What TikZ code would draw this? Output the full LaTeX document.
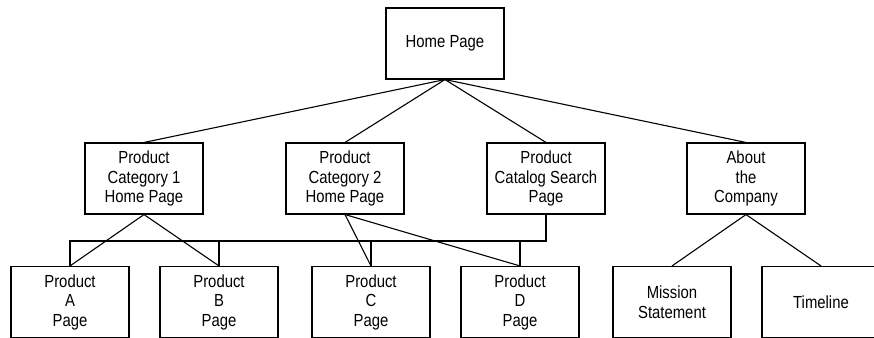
\documentclass[tikz,border=0pt]{standalone}
\usepackage{fontspec}
\setmainfont{Liberation Sans}[FakeStretch=0.85]
\usepackage{tikz}

\begin{document}
\begin{tikzpicture}[x=1pt, y=-1pt,
		page_style/.style={rectangle,draw=black,line width=1.1pt,minimum width=118pt,minimum height=71pt,inner sep=0pt,align=center,font=\fontsize{17.5}{19.5}\selectfont},
		edge_style/.style={draw=black,line width=1.1pt}]
		
		\useasboundingbox (0,0) rectangle (874,337);
		\clip (0,0) rectangle (874,337);
		
		\node[page_style] (home) at (445,43.5)  {Home Page};
		\node[page_style] (cat1) at (144,178.5)  {Product\\Category 1\\Home Page};
		\node[page_style] (cat2) at (345,178.5)  {Product\\Category 2\\Home Page};
		\node[page_style] (srch) at (546,178.5)  {Product\\Catalog Search\\Page};
		\node[page_style] (about) at (746,178.5)  {About\\the\\Company};
		\node[page_style] (pa) at (70,302)  {Product\\A\\Page};
		\node[page_style] (pb) at (219,302)  {Product\\B\\Page};
		\node[page_style] (pc) at (371,302)  {Product\\C\\Page};
		\node[page_style] (pd) at (520,302)  {Product\\D\\Page};
		\node[page_style] (miss) at (672,302)  {Mission\\Statement};
		\node[page_style] (time) at (821,302)  {Timeline};
		\coordinate (bus) at (70,241);
		
		\draw[edge_style]  (home.south) edge (cat1.north);
		\draw[edge_style]  (home.south) edge (cat2.north);
		\draw[edge_style]  (home.south) edge (srch.north);
		\draw[edge_style]  (home.south) edge (about.north);
		\draw[edge_style]  (cat1.south) edge (pa.north);
		\draw[edge_style]  (cat1.south) edge (pb.north);
		\draw[edge_style]  (cat2.south) edge (pc.north);
		\draw[edge_style]  (cat2.south) edge (pd.north);
		\draw[edge_style]  (about.south) edge (miss.north);
		\draw[edge_style]  (about.south) edge (time.north);
		\draw[edge_style]  (srch.south) |- (bus) -- (pa.north);
		\draw[edge_style]  (bus -| pb.north) -- (pb.north);
		\draw[edge_style]  (bus -| pc.north) -- (pc.north);
		\draw[edge_style]  (bus -| pd.north) -- (pd.north);
		
\end{tikzpicture}
\end{document}
